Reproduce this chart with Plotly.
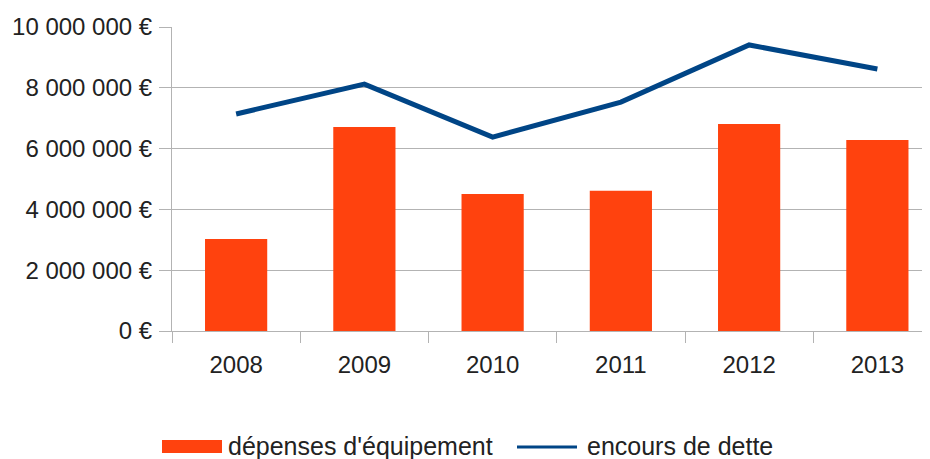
import plotly.graph_objects as go

years = ["2008", "2009", "2010", "2011", "2012", "2013"]
depenses = [3030000, 6710000, 4510000, 4610000, 6810000, 6280000]
encours = [7140000, 8120000, 6380000, 7530000, 9410000, 8620000]
y_tickvals = [0, 2000000, 4000000, 6000000, 8000000, 10000000]
y_ticktext = ["0 €", "2 000 000 €", "4 000 000 €", "6 000 000 €", "8 000 000 €", "10 000 000 €"]
legend_labels = ["dépenses d'équipement", "encours de dette"]

BAR_COLOR = "#ff420e"
LINE_COLOR = "#004586"
GRID = "#b3b3b3"
FONT = "Liberation Sans, Arial, sans-serif"
TXT = "#222222"

# page has an 8px body margin
OFF = 8
W, H = 930 - OFF, 459 - OFF
L, R, T, B = 172 - OFF, 0, 27 - OFF, 459 - 331
pw, ph = W - L - R, H - T - B

def px(x):
    return (x - OFF - L) / pw

def py(y):
    return (H - B - (y - OFF)) / ph

fig = go.Figure()
fig.add_trace(go.Bar(x=years, y=depenses, marker=dict(color=BAR_COLOR, line=dict(width=0)),
                     name=legend_labels[0], showlegend=False))
fig.add_trace(go.Scatter(x=years, y=encours, mode="lines", line=dict(color=LINE_COLOR, width=5),
                         name=legend_labels[1], showlegend=False))

fig.update_layout(
    width=W, height=H, autosize=False,
    margin=dict(l=L, r=R, t=T, b=B, pad=0),
    paper_bgcolor="white", plot_bgcolor="white",
    bargap=0.515,
    font=dict(family=FONT, size=24, color=TXT),
    xaxis=dict(type="category", range=[-0.5, -0.5 + pw / 128.25], tickson="boundaries",
               ticks="outside", ticklen=11, tickcolor=GRID, tickwidth=1,
               showline=True, linecolor=GRID, linewidth=1, showgrid=False,
               ticklabelstandoff=12, tickfont=dict(size=24, color=TXT)),
    yaxis=dict(range=[0, 10000000], tickvals=y_tickvals, ticktext=y_ticktext,
               ticks="outside", ticklen=12, tickcolor=GRID, tickwidth=1,
               showline=True, linecolor=GRID, linewidth=1, showgrid=True, gridcolor=GRID,
               gridwidth=1, zeroline=False, ticklabelstandoff=2,
               tickfont=dict(size=24, color=TXT)),
)

# custom legend
ly = 446
fig.add_shape(type="rect", xref="paper", yref="paper", x0=px(162), x1=px(222), y0=py(453), y1=py(440),
              fillcolor=BAR_COLOR, line=dict(width=0))
fig.add_annotation(xref="paper", yref="paper", x=px(226), y=py(ly), text=legend_labels[0],
                   showarrow=False, xanchor="left", yanchor="middle",
                   font=dict(family=FONT, size=25, color=TXT))
fig.add_shape(type="line", xref="paper", yref="paper", x0=px(517), x1=px(577), y0=py(447), y1=py(447),
              line=dict(color=LINE_COLOR, width=3))
fig.add_annotation(xref="paper", yref="paper", x=px(585), y=py(ly), text=legend_labels[1],
                   showarrow=False, xanchor="left", yanchor="middle",
                   font=dict(family=FONT, size=25, color=TXT))

fig.write_html("out.html")
